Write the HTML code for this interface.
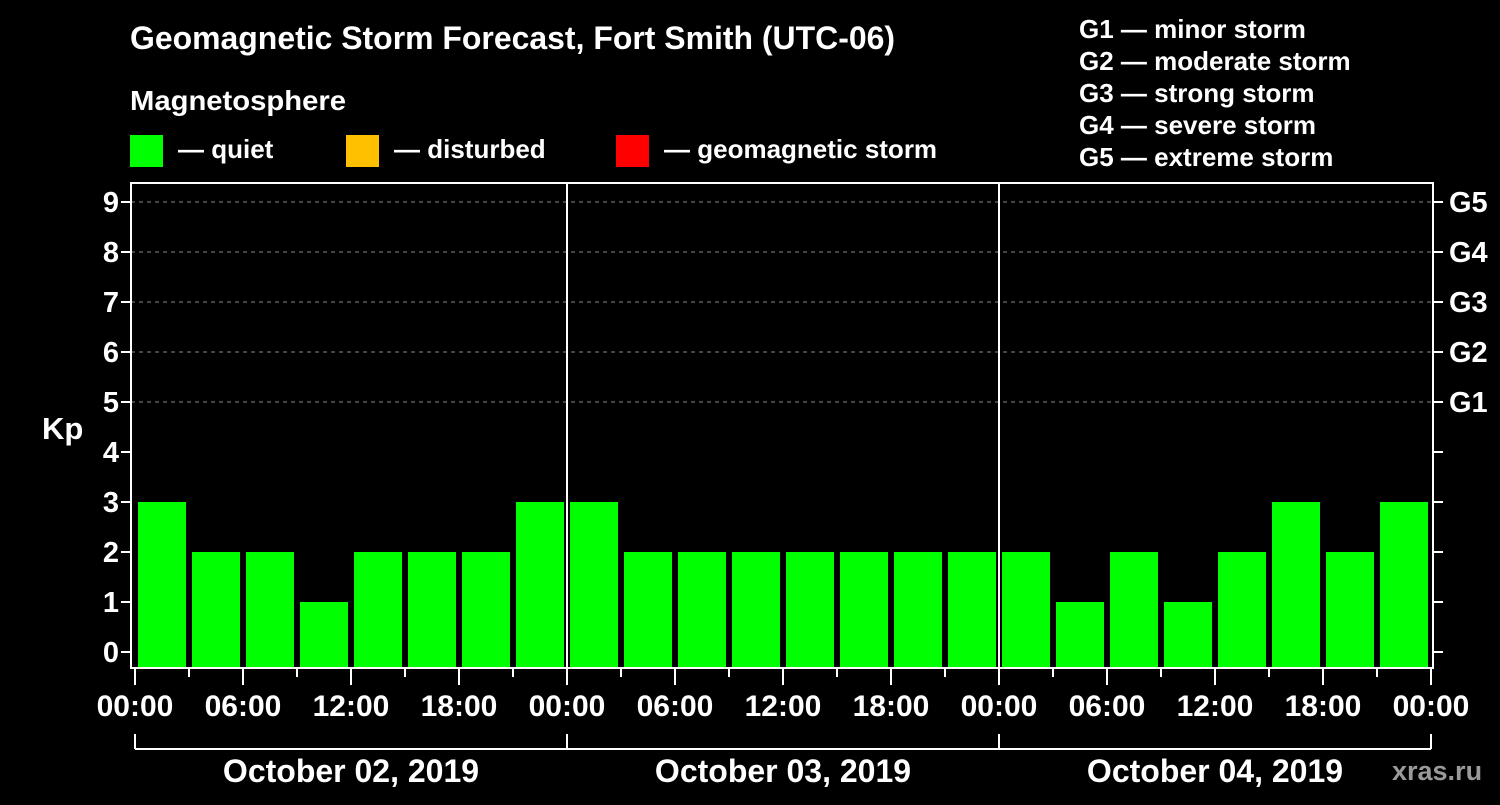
<!DOCTYPE html>
<html><head><meta charset="utf-8">
<style>
body{margin:0;background:#000;width:1500px;height:800px;overflow:hidden}
svg text{font-family:"Liberation Sans",Arial,sans-serif;font-weight:bold;fill:#fff}
</style></head>
<body>
<svg id="chart" width="1500" height="800" xmlns="http://www.w3.org/2000/svg">
<rect width="1500" height="800" fill="#000"/>
<text x="130" y="49" font-size="32" textLength="765" lengthAdjust="spacingAndGlyphs">Geomagnetic Storm Forecast, Fort Smith (UTC-06)</text>
<text x="130" y="110" font-size="28" textLength="216" lengthAdjust="spacingAndGlyphs">Magnetosphere</text>
<g><rect x="130" y="135" width="33" height="32" fill="#00ff00"/><text x="178" y="158" font-size="26">— quiet</text></g>
<g><rect x="346" y="135" width="33" height="32" fill="#ffc000"/><text x="394" y="158" font-size="26">— disturbed</text></g>
<g><rect x="616" y="135" width="33" height="32" fill="#ff0000"/><text x="664" y="158" font-size="26">— geomagnetic storm</text></g>
<g font-size="26">
<text x="1079" y="38">G1 — minor storm</text>
<text x="1079" y="70">G2 — moderate storm</text>
<text x="1079" y="102">G3 — strong storm</text>
<text x="1079" y="134">G4 — severe storm</text>
<text x="1079" y="166">G5 — extreme storm</text>
</g>
<text x="42" y="439" font-size="31">Kp</text>
<text x="1392" y="780" font-size="27" style="fill:#9a9a9a">xras.ru</text>
<g id="plot"></g>
</svg>
<script>
const days = ["October 02, 2019","October 03, 2019","October 04, 2019"];
const kpValues = [3,2,2,1,2,2,2,3, 3,2,2,2,2,2,2,2, 2,1,2,1,2,3,2,3];
const kpTicks = [0,1,2,3,4,5,6,7,8,9];
const gLabels = ["G1","G2","G3","G4","G5"];
const timeLabels = ["00:00","06:00","12:00","18:00"];

const NS="http://www.w3.org/2000/svg";
const g=document.getElementById('plot');
const X0=135, PXH=18, L=131, R=1433, T=183, B=668;
const x=h=>X0+h*PXH;
const y=v=>652-v*50;
function mk(tag,attrs,parent){const e=document.createElementNS(NS,tag);for(const k in attrs)e.setAttribute(k,attrs[k]);(parent||g).appendChild(e);return e;}

for(let v=5;v<=9;v++){
  const ln=mk('line',{x1:L,x2:R,y1:y(v),y2:y(v),stroke:'#888','stroke-dasharray':'4,4','stroke-width':1});
  
  
}
kpValues.forEach((v,i)=>{
  const col=v>=5?'#ff0000':(v>=4?'#ffc000':'#00ff00');
  const r=mk('rect',{x:x(i*3)+3,y:y(v),width:48,height:667-y(v),fill:col});
  
  
});
for(let d=1;d<days.length;d++){
  const ln=mk('line',{x1:x(d*24),x2:x(d*24),y1:T,y2:B,stroke:'#fff','stroke-width':2});
  
  
}
const fr=mk('rect',{x:L,y:T,width:R-L,height:B-T,fill:'none',stroke:'#fff','stroke-width':2});


kpTicks.forEach(v=>{
  mk('line',{x1:L-10,x2:L,y1:y(v),y2:y(v),stroke:'#fff','stroke-width':2});
  mk('line',{x1:R,x2:R+10,y1:y(v),y2:y(v),stroke:'#fff','stroke-width':2});
  const t=mk('text',{x:L-12,y:y(v)+10,'font-size':29,'text-anchor':'end'});
  t.textContent=v;
  
  
});
gLabels.forEach((s,i)=>{
  const t=mk('text',{x:1449,y:y(5+i)+10,'font-size':29});
  t.textContent=s;
  
  
});
const nh=days.length*24;
for(let h=0;h<=nh;h+=3){
  const major=h%6===0;
  mk('line',{x1:x(h),x2:x(h),y1:B,y2:B+(major?17:9),stroke:'#fff','stroke-width':2});
  if(major){
    const t=mk('text',{x:x(h),y:716,'font-size':30,'text-anchor':'middle'});
    t.textContent=timeLabels[(h/6)%4];
    
    
  }
}
mk('line',{x1:x(0),x2:x(nh),y1:749,y2:749,stroke:'#fff','stroke-width':2});
for(let d=0;d<=days.length;d++) mk('line',{x1:x(d*24),x2:x(d*24),y1:734,y2:749,stroke:'#fff','stroke-width':2});
days.forEach((s,d)=>{
  const t=mk('text',{x:x(d*24+12),y:782,'font-size':32,'text-anchor':'middle'});
  t.textContent=s;
  
  
});
</script>
</body></html>
